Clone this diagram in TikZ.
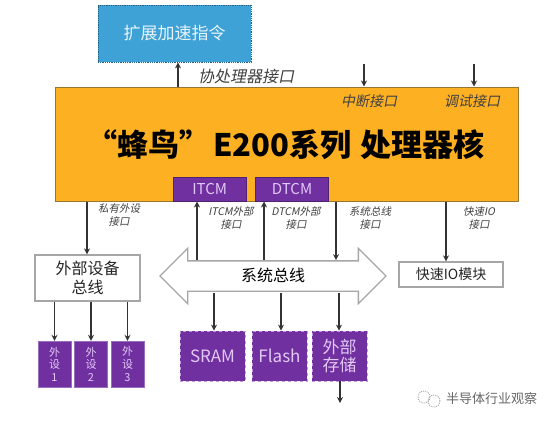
\documentclass[tikz,border=0pt]{standalone}
\usepackage{fontspec}
\usepackage{xcolor}
\usepackage{tikz}
\usetikzlibrary{shapes.arrows, arrows.meta, positioning, calc}
\setmainfont{Noto Sans CJK SC}
\newfontfamily\slantcjk[FakeSlant=0.2]{Noto Sans CJK SC}
\definecolor{cCore}{RGB}{252,176,34}
\definecolor{cEdge}{RGB}{150,118,50}
\definecolor{cBlue}{RGB}{62,162,214}
\definecolor{cPurple}{RGB}{112,48,160}
\definecolor{cLilac}{RGB}{226,200,245}
\definecolor{cGrey}{RGB}{166,166,166}
\definecolor{cInk}{RGB}{64,64,64}
\tikzset{
	sig/.style      ={-{Stealth[length=6pt,width=6pt]}, line width=1.6pt, draw=black!80},
	blk/.style      ={rectangle, inner sep=0pt, align=center},
	grybox/.style   ={blk, draw=cGrey, line width=1.3pt, fill=white, text=black!85},
	memblk/.style   ={blk, fill=cPurple, text=cLilac, draw=cLilac!70!cPurple, dashed, line width=0.8pt, minimum height=50pt, font=\fontsize{17}{18}\selectfont},
	perblk/.style   ={blk, fill=cPurple, text=cLilac, draw=cPurple!70, minimum width=33pt, minimum height=46pt, font=\fontsize{11}{12.6}\selectfont},
	tcmblk/.style   ={blk, fill=cPurple, text=cLilac, draw=cPurple!70!black, minimum width=73pt, minimum height=24pt, font=\fontsize{15}{17}\selectfont},
	portlbl/.style  ={align=center, inner sep=0pt, text=cInk, font=\slantcjk\fontsize{10.5}{13.5}\selectfont},
	toplbl/.style   ={align=center, inner sep=0pt, text=black!75, font=\slantcjk\fontsize{14}{16}\selectfont},
}
\begin{document}
\begin{tikzpicture}[x=1pt, y=-1pt]
	\useasboundingbox (0,0) rectangle (554,424);
	% core and its blocks
	\node[blk, draw=cEdge, line width=1pt, fill=cCore, minimum width=463pt, minimum height=114pt] (core) at (286.5,144) {};
	\node[anchor=west, inner sep=0pt, font=\fontsize{31}{33}\bfseries\selectfont] (title) at (86,145) {“蜂鸟”\kern3pt E200系列\kern9pt 处理器核};
	\node[tcmblk, above right=0pt and 0pt of core.south, xshift=-113.5pt] (itcm) {ITCM};
	\node[tcmblk, right=9pt of itcm] (dtcm) {DTCM};
	\node[blk, draw=cBlue!60!black, densely dotted, line width=0.8pt, fill=cBlue, text=white!88!cBlue, minimum width=153pt, minimum height=57pt, font=\fontsize{17}{19}\selectfont] (ext) at (174.5,33.5) {扩展加速指令};
	\node[toplbl, font=\slantcjk\fontsize{16}{18}\selectfont] (coplbl) at (246,76) {协处理器接口};
	\node[toplbl] (irqlbl) at (369,101) {中断接口};
	\node[toplbl] (dbglbl) at (472,101) {调试接口};
	% buses and peripherals
	\node[grybox, minimum width=105pt, minimum height=46pt, font=\fontsize{16}{19}\selectfont] (pbus) at (87.5,278) {外部设备\\总线};
	\node[shape=double arrow, draw=cGrey, line width=1.3pt, fill=white, inner sep=0pt, minimum width=54pt, minimum height=226pt, double arrow head extend=12.5pt, double arrow tip angle=90, text height=20pt, text depth=9pt, font=\fontsize{16}{18}\selectfont] (bus) at (273,276) {系统总线};
	\node[grybox, minimum width=104pt, minimum height=25pt, font=\fontsize{14}{16}\selectfont] (fio) at (451,274.5) {快速IO模块};
	\foreach \x/\n in {54.5/1, 91/2, 127.5/3}
		\node[perblk] (per\n) at (\x,364) {外\\设\\\n};
	\node[memblk, minimum width=65pt] (sram) at (212.5,356) {SRAM};
	\node[memblk, minimum width=55pt] (flash) at (279.5,356) {Flash};
	\node[memblk, minimum width=55pt] (xmem) at (339.5,356) {外部\\存储};
	% port labels
	\node[portlbl] (plbl) at (119,215) {私有外设\\接口};
	\node[portlbl] (ilbl) at (231,218) {ITCM外部\\接口};
	\node[portlbl] (dlbl) at (296,218) {DTCM外部\\接口};
	\node[portlbl] (slbl) at (370,218) {系统总线\\接口};
	\node[portlbl] (flbl) at (479,218) {快速IO\\接口};
	% free ends
	\coordinate (xcop) at (178,0);
	\coordinate (xirq) at (364,64);
	\coordinate (xdbg) at (474,64);
	\coordinate (xpri) at (87,0);
	\coordinate (xitcm) at (197,0);
	\coordinate (xdtcm) at (264,0);
	\coordinate (xsys) at (336,0);
	\coordinate (xfio) at (446,0);
	\coordinate (xsram) at (214,0);
	\coordinate (xflash) at (281,0);
	\coordinate (xmemo) at (339,0);
	\coordinate (xout) at (340,403);
	\coordinate (ybot) at (0,293);
	% connectors
	\draw[sig] (core.north -| xcop) -- (ext.south -| xcop);
	\draw[sig] (xirq) -- (core.north -| xirq);
	\draw[sig] (xdbg) -- (core.north -| xdbg);
	\draw[sig] (core.south -| xpri) -- (pbus.north -| xpri);
	\draw[sig] (bus.north -| xitcm) -- (core.south -| xitcm);
	\draw[sig] (bus.north -| xdtcm) -- (core.south -| xdtcm);
	\draw[sig] (core.south -| xsys) -- (bus.north -| xsys);
	\draw[sig] (core.south -| xfio) -- (fio.north -| xfio);
	\draw[sig] (ybot -| xsram) -- (sram.north -| xsram);
	\draw[sig] (ybot -| xflash) -- (flash.north -| xflash);
	\draw[sig] (ybot -| xmemo) -- (xmem.north -| xmemo);
	\draw[sig] (xmem.south -| xout) -- (xout);
	\foreach \n in {1,2,3}
		\draw[sig] (pbus.south -| per\n.north) -- (per\n.north);
	% watermark
	\node[inner sep=0pt, text=black!60, font=\fontsize{13}{15}\selectfont] (mark) at (491.5,399) {半导体行业观察};
	\draw[cGrey, densely dotted, line width=0.9pt] (424,397) circle (6pt) (434,401) circle (6pt);
\end{tikzpicture}
\end{document}
